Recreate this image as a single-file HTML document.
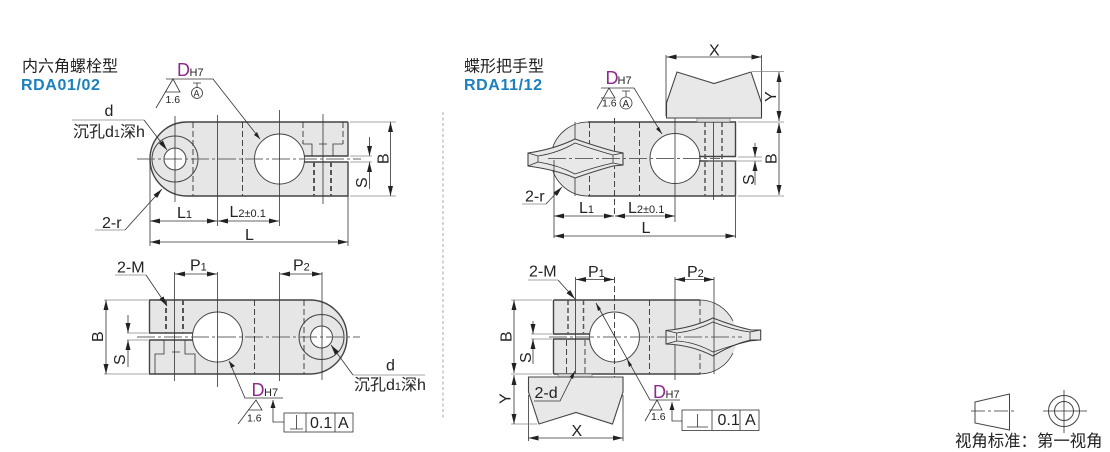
<!DOCTYPE html>
<html><head><meta charset="utf-8"><style>
html,body{margin:0;padding:0;background:#fff}
svg{display:block}
text{font-family:"Liberation Sans","Noto Sans CJK SC",sans-serif;fill:#222;font-size:16px}
.s{font-size:11px}
.r{font-size:10.5px}
.m{fill:#8e2a8c;font-size:18px}
.l{stroke:#333;stroke-width:.8;fill:none}
.t{stroke:#444;stroke-width:1;fill:none}
.o{stroke:#444;stroke-width:1.4;fill:none}
.d{stroke:#333;stroke-width:.9;fill:none;stroke-dasharray:6 3}
.h{stroke:#555;stroke-width:2;fill:none;stroke-dasharray:5 3}
.c{stroke:#666;stroke-width:.9;fill:none;stroke-dasharray:18 3 3 3}
.a{fill:#222;stroke:none}
.b{fill:#e6e6e6;stroke:none}
.g{stroke:#888;stroke-width:.8;fill:none}
.w{fill:#e8e8e8;stroke:#444;stroke-width:1.1}
.u{font-size:16px;font-weight:bold;fill:#1b80bd;letter-spacing:.6px}
</style></head><body>
<svg width="1110" height="452" viewBox="0 0 1110 452" xmlns="http://www.w3.org/2000/svg">
<defs>
<marker id="e" viewBox="0 0 10 5" refX="10" refY="2.500" markerWidth="10" markerHeight="5" markerUnits="userSpaceOnUse" orient="auto-start-reverse"><path d="M0 0L10 2.500L0 5z" fill="#222"/></marker>
</defs>

<!-- titles -->
<text x="22" y="71.500">内六角螺栓型</text>
<text x="21" y="90" class="u">RDA01/02</text>
<text x="464" y="71.500">蝶形把手型</text>
<text x="464" y="90" class="u">RDA11/12</text>
<line x1="443" y1="112" x2="443" y2="420" stroke="#aaa" stroke-width="1" stroke-dasharray="3 2.500"/>

<!-- DIAGRAM 1 -->
<path class="b" d="M187 122H348V156H304Q304 159 304 162H348V196H187A37 37 0 0 1 187 122Z"/>
<circle cx="279.500" cy="159" r="25" fill="#fff"/>
<rect x="303" y="156.500" width="46" height="5" fill="#fff"/>
<circle cx="175" cy="159" r="11" fill="#fff"/>
<path class="o" d="M348 122H187A37 37 0 0 0 187 196H348V162H304M304 156H348V122"/>
<circle class="t" cx="279.500" cy="159" r="25"/>
<circle class="t" cx="175" cy="159" r="11"/>
<circle class="t" cx="175" cy="159" r="23"/>
<line class="c" x1="137" y1="159" x2="361" y2="159"/>
<line class="l" x1="175" y1="116" x2="175" y2="202"/>
<line class="l" x1="150" y1="159" x2="150" y2="246"/>
<line class="l" x1="217.500" y1="115" x2="217.500" y2="226"/>
<line class="l" x1="279.500" y1="110" x2="279.500" y2="226"/>
<line class="l" x1="323" y1="114" x2="323" y2="204"/>
<line class="l" x1="348" y1="196" x2="348" y2="246"/>
<line class="d" x1="193" y1="122" x2="193" y2="196"/>
<line class="d" x1="242.500" y1="122" x2="242.500" y2="196"/>
<path class="d" d="M303 122V144M343 122V144"/>
<path class="l" d="M303 144H312V156M343 144H333V156M319 144H327"/>
<path class="h" d="M314 162V196M331 162V196"/>
<!-- dims 1 -->
<path class="g" d="M350 122H396M350 196H396"/>
<line class="l" x1="390.500" y1="122" x2="390.500" y2="196" marker-start="url(#e)" marker-end="url(#e)"/>
<line class="l" x1="369.500" y1="137" x2="369.500" y2="156" marker-end="url(#e)"/>
<line class="l" x1="369.500" y1="189" x2="369.500" y2="162" marker-end="url(#e)"/>
<path class="g" d="M350 156H372M350 162H372"/>
<line class="l" x1="150" y1="221" x2="217" y2="221" marker-start="url(#e)" marker-end="url(#e)"/>
<line class="l" x1="218" y1="221" x2="279" y2="221" marker-start="url(#e)" marker-end="url(#e)"/>
<line class="l" x1="150" y1="242" x2="348" y2="242" marker-start="url(#e)" marker-end="url(#e)"/>
<text x="177" y="218">L<tspan class="s">1</tspan></text>
<text x="229.500" y="217">L<tspan class="s">2±0.1</tspan></text>
<text x="245" y="240">L</text>
<text transform="translate(388.500,164) rotate(-90)">B</text>
<text transform="translate(367,188) rotate(-90)">S</text>
<text x="104.500" y="116">d</text>
<text x="73" y="137">沉孔d<tspan class="s">1</tspan>深h</text>
<path class="g" d="M72 120H144"/><line class="l" x1="144" y1="120" x2="167" y2="150" marker-end="url(#e)"/>
<text x="102" y="228">2-r</text>
<path class="g" d="M95 230H125"/><line class="l" x1="125" y1="230" x2="162" y2="189" marker-end="url(#e)"/>
<text x="177" y="76" class="m">D</text><text x="189.500" y="76" class="s">H7</text>
<path class="l" d="M166 79H213L260 139"/>
<path class="a" d="M260 139L254 135L257 132Z"/>
<path class="l" d="M156 108L173 79L180 92H165"/>
<text x="165.500" y="103" class="r">1.6</text>
<path class="l" d="M193 83H201M197 83V88"/><circle class="l" cx="197" cy="93" r="5.500"/><text x="193.500" y="96.500" style="font-size:9px">A</text>

<!-- DIAGRAM 2 -->
<path class="b" d="M149.500 300H310A37 37 0 0 1 310 374H149.500Z"/>
<circle cx="217.500" cy="337" r="25" fill="#fff"/>
<rect x="149" y="333.500" width="46" height="6" fill="#fff"/>
<circle cx="321.500" cy="337" r="11" fill="#fff"/>
<path class="o" d="M193 333H149.500V300H310A37 37 0 0 1 310 374H149.500V340H193"/>
<circle class="t" cx="217.500" cy="337" r="25"/>
<circle class="t" cx="321.500" cy="337" r="11"/>
<circle class="t" cx="321.500" cy="337" r="22.500"/>
<line class="c" x1="137" y1="337" x2="360" y2="337"/>
<line class="l" x1="174.500" y1="272" x2="174.500" y2="381"/>
<line class="l" x1="217.500" y1="272" x2="217.500" y2="387"/>
<line class="l" x1="279.500" y1="272" x2="279.500" y2="381"/>
<line class="l" x1="322" y1="272" x2="322" y2="380"/>
<line class="d" x1="254.500" y1="300" x2="254.500" y2="374"/>
<line class="d" x1="304" y1="300" x2="304" y2="374"/>
<path class="h" d="M166 300V333M183 300V333"/>
<path class="l" d="M155 374V354H164V340M195 374V354H185V340M172 352H180"/>
<!-- dims 2 -->
<path class="g" d="M104 300H148M104 374H148M127 333H148M127 340H148"/>
<line class="l" x1="106" y1="300" x2="106" y2="374" marker-start="url(#e)" marker-end="url(#e)"/>
<line class="l" x1="128" y1="315" x2="128" y2="333" marker-end="url(#e)"/>
<line class="l" x1="128" y1="367" x2="128" y2="340" marker-end="url(#e)"/>
<line class="l" x1="175" y1="274" x2="217" y2="274" marker-start="url(#e)" marker-end="url(#e)"/>
<line class="l" x1="280" y1="274" x2="322" y2="274" marker-start="url(#e)" marker-end="url(#e)"/>
<text x="190" y="270.500">P<tspan class="s">1</tspan></text>
<text x="293" y="270.500">P<tspan class="s">2</tspan></text>
<text x="117" y="272.500">2-M</text>
<path class="g" d="M115 275H146"/><line class="l" x1="146" y1="275" x2="167" y2="306" marker-end="url(#e)"/>
<text transform="translate(103,342) rotate(-90)">B</text>
<text transform="translate(125,365) rotate(-90)">S</text>
<text x="386" y="370.500">d</text>
<text x="354" y="390">沉孔d<tspan class="s">1</tspan>深h</text>
<path class="g" d="M353 375H425"/><line class="l" x1="353" y1="375" x2="331" y2="345" marker-end="url(#e)"/>
<text x="251.500" y="396" class="m">D</text><text x="264" y="396" class="s">H7</text>
<path class="l" d="M283 398H245L229 361"/>
<path class="a" d="M229 361L235 366L231 368Z"/>
<path class="l" d="M238 424L256 400L262 410H248"/>
<text x="247" y="421.500" class="r">1.6</text>
<path class="l" d="M273 400V422H284"/><path class="a" d="M273 400L270.500 408H275.500Z"/>
<rect class="l" x="284" y="413" width="69" height="19"/>
<path class="l" d="M306 413V432M335 413V432M290 429H303M296.500 415V429"/>
<text x="310" y="428">0.1</text><text x="338" y="428">A</text>

<!-- DIAGRAM 3 -->
<path class="b" d="M588 122H735.500V157H699V161H735.500V196H588A37 37 0 0 1 588 122Z"/>
<circle cx="675" cy="158.500" r="25" fill="#fff"/>
<rect x="698" y="157" width="38" height="4" fill="#fff"/>
<path class="l" d="M588 122A37 37 0 0 0 588 196"/>
<path class="o" d="M588 122H735.500V156.500H699M699 161H735.500V196H588"/>
<circle class="t" cx="675" cy="158.500" r="25"/>
<line class="l" x1="575" y1="122" x2="575" y2="196"/>
<line class="d" x1="589.500" y1="122" x2="589.500" y2="196"/>
<line class="d" x1="614.500" y1="118" x2="614.500" y2="216"/>
<line class="d" x1="639.500" y1="122" x2="639.500" y2="196"/>
<line class="l" x1="675" y1="118" x2="675" y2="222"/>
<path class="h" d="M705 122V196M722 122V196" style="stroke-width:1.500"/>
<line class="l" x1="713.500" y1="118" x2="713.500" y2="200"/>
<!-- wing -->
<path class="w" d="M528 153Q555 149 575 139Q595 146 613 151L623 153V165L613 166Q595 171 575 178Q557 170 528 166Z"/>
<path class="l" d="M538 156Q558 153 575 143Q595 150 613 155V163Q595 167 575 174Q558 165 538 162ZM528 153L538 156M528 166L538 162M623 153L613 155M623 165L613 163"/>
<line class="c" x1="548" y1="158.500" x2="720" y2="158.500"/>
<line class="l" x1="554" y1="160" x2="554" y2="238"/>
<!-- handle top -->
<rect x="697" y="118" width="33" height="4" fill="#ddd" stroke="#666" stroke-width=".6"/>
<path class="w" d="M666.500 118V103L677 72L714 83.500L751 72L761.500 103V118Z"/>
<line class="l" x1="666" y1="116" x2="666" y2="55"/>
<line class="l" x1="761.500" y1="116" x2="761.500" y2="55"/>
<line class="l" x1="666.500" y1="57" x2="761.500" y2="57" marker-start="url(#e)" marker-end="url(#e)"/>
<text x="709" y="55.500">X</text>
<path class="g" d="M752 71.500H784M738 122H784M738 196H784M708 161H762M738 157H762"/>
<line class="l" x1="779" y1="72" x2="779" y2="121" marker-start="url(#e)" marker-end="url(#e)"/>
<line class="l" x1="779" y1="123" x2="779" y2="195" marker-start="url(#e)" marker-end="url(#e)"/>
<line class="l" x1="755" y1="143" x2="755" y2="157" marker-end="url(#e)"/>
<line class="l" x1="755" y1="185" x2="755" y2="161" marker-end="url(#e)"/>
<text transform="translate(776,102) rotate(-90)">Y</text>
<text transform="translate(776.500,164) rotate(-90)">B</text>
<text transform="translate(754,185) rotate(-90)">S</text>
<line class="l" x1="554" y1="216" x2="614" y2="216" marker-start="url(#e)" marker-end="url(#e)"/>
<line class="l" x1="615" y1="216" x2="675" y2="216" marker-start="url(#e)" marker-end="url(#e)"/>
<line class="l" x1="554" y1="236" x2="735.500" y2="236" marker-start="url(#e)" marker-end="url(#e)"/>
<line class="l" x1="735.500" y1="197" x2="735.500" y2="238"/>
<text x="579" y="213">L<tspan class="s">1</tspan></text>
<text x="628" y="213">L<tspan class="s">2±0.1</tspan></text>
<text x="641.500" y="233">L</text>
<text x="525" y="201.500">2-r</text>
<path class="g" d="M522 204H546"/><line class="l" x1="546" y1="204" x2="562" y2="187" marker-end="url(#e)"/>
<text x="605.500" y="84" class="m">D</text><text x="617.500" y="84" class="s">H7</text>
<path class="l" d="M601 88H634L662 134"/><path class="a" d="M662 134L656 129L659 127Z"/>
<path class="l" d="M597 109L609 88L615 98H601"/>
<text x="602" y="106.500" class="r">1.6</text>
<path class="l" d="M622 91H630M626 91V97"/><circle class="l" cx="626" cy="103" r="6"/><text x="622.500" y="107" style="font-size:10px">A</text>

<!-- DIAGRAM 4 -->
<path class="b" d="M553.500 300H700A37 37 0 0 1 700 374H553.500V339H590V335H553.500Z"/>
<circle cx="614.500" cy="337" r="25" fill="#fff"/>
<rect x="553" y="335" width="38" height="4" fill="#fff"/>
<path class="o" d="M553.500 300H700M553.500 374H700M553.500 300V334H590M553.500 374V339H590"/>
<path class="l" d="M700 300A37 37 0 0 1 733 321M733 353A37 37 0 0 1 700 374"/>
<circle class="t" cx="614.500" cy="337" r="25"/>
<line class="l" x1="575.500" y1="277" x2="575.500" y2="374"/>
<line class="d" x1="614.500" y1="277" x2="614.500" y2="378"/>
<line class="d" x1="649.500" y1="300" x2="649.500" y2="374"/>
<line class="l" x1="675" y1="277" x2="675" y2="380"/>
<line class="d" x1="700" y1="300" x2="700" y2="374"/>
<path class="h" d="M568 300V334M583.500 300V334" style="stroke-width:1.500"/>
<path class="d" d="M566.500 340V374M585 340V374"/>
<!-- wing -->
<path class="w" d="M666 330.500Q692 328 713 318Q733 326 751 330H760.700V340H751Q733 344 713 356Q692 345 666 344Z"/>
<path class="l" d="M676.700 333Q695 331 713 322Q733 330 750 332V341Q733 345 713 352Q695 342 676.700 341ZM666 330.500L676.700 333M666 344L676.700 341M760.700 330L750 332M760.700 340L750 341"/>
<line class="c" x1="549" y1="337" x2="742" y2="337"/>
<line class="l" x1="714" y1="277" x2="714" y2="374"/>
<!-- handle bottom -->
<rect x="558" y="374" width="34" height="3" fill="#ddd" stroke="#666" stroke-width=".6"/>
<path class="w" d="M528.500 377H623V392L612.500 424L576 412.500L539 424L528.500 392Z"/>
<line class="l" x1="528.500" y1="395" x2="528.500" y2="441"/>
<line class="l" x1="623" y1="395" x2="623" y2="441"/>
<line class="l" x1="528.500" y1="438" x2="623" y2="438" marker-start="url(#e)" marker-end="url(#e)"/>
<text x="571.500" y="436">X</text>
<path class="g" d="M511 300H552M511 374H552M531 334H552M531 339H552M511 424H537"/>
<line class="l" x1="514" y1="300" x2="514" y2="373" marker-start="url(#e)" marker-end="url(#e)"/>
<line class="l" x1="514" y1="375" x2="514" y2="424" marker-start="url(#e)" marker-end="url(#e)"/>
<line class="l" x1="533" y1="321" x2="533" y2="334" marker-end="url(#e)"/>
<line class="l" x1="533" y1="364" x2="533" y2="339" marker-end="url(#e)"/>
<text transform="translate(511.500,342) rotate(-90)">B</text>
<text transform="translate(531,363) rotate(-90)">S</text>
<text transform="translate(510.500,404) rotate(-90)">Y</text>
<line class="l" x1="576" y1="279.500" x2="614" y2="279.500" marker-start="url(#e)" marker-end="url(#e)"/>
<line class="l" x1="675" y1="279.500" x2="714" y2="279.500" marker-start="url(#e)" marker-end="url(#e)"/>
<text x="588" y="277">P<tspan class="s">1</tspan></text>
<text x="687" y="277">P<tspan class="s">2</tspan></text>
<text x="529" y="276.500">2-M</text>
<path class="g" d="M528 280H558"/><line class="l" x1="558" y1="280" x2="575" y2="299" marker-end="url(#e)"/>
<text x="534.500" y="398">2-d</text>
<path class="l" d="M534 401H560L575 371"/><path class="a" d="M575 371L573 379L569.500 377Z"/>
<text x="653" y="398" class="m">D</text><text x="665.500" y="398" class="s">H7</text>
<path class="l" d="M680 400H650L596 303"/><path class="a" d="M596 303L601 309L598 311Z"/><path class="a" d="M627 359L632 365L629 367Z"/>
<path class="l" d="M645 421L657 400L662 410H649"/>
<text x="651" y="420" class="r">1.6</text>
<path class="l" d="M672 402V421H682"/><path class="a" d="M672 402L669.500 410H674.500Z"/>
<rect class="l" x="682" y="410" width="77" height="20.500"/>
<path class="l" d="M712 410V430M740 410V430M687 427H708M697.500 414V427"/>
<text x="717.500" y="425">0.1</text><text x="745" y="425">A</text>

<!-- projection symbol -->
<path class="t" d="M975 402L1009.500 394V430L975 423Z"/>
<line class="l" x1="971" y1="411" x2="1014" y2="411" stroke-dasharray="14 3 3 3"/>
<circle class="t" cx="1064" cy="411" r="15.500"/>
<circle class="t" cx="1064" cy="411" r="9.500"/>
<path class="l" d="M1064 390V433M1043 411H1087"/>
<text x="955" y="446.500" style="font-size:16.400px">视角标准：第一视角</text>
</svg>
</body></html>
